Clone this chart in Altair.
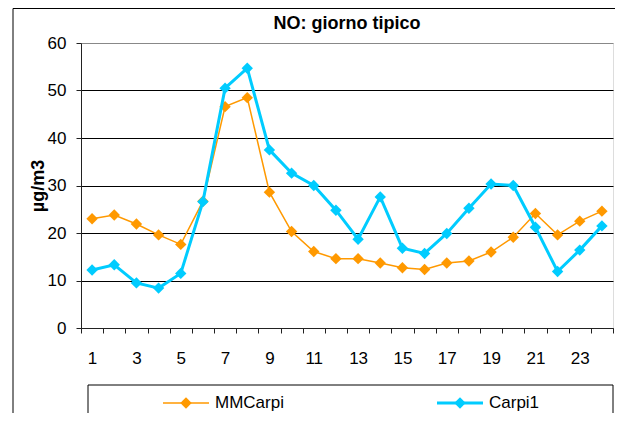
import altair as alt
import pandas as pd

hours = list(range(1, 25))
mmcarpi = [23.0, 23.8, 21.9, 19.6, 17.6, 26.7, 46.6, 48.5, 28.6, 20.3, 16.1, 14.6,
           14.6, 13.7, 12.7, 12.3, 13.7, 14.1, 16.0, 19.1, 24.1, 19.6, 22.5, 24.6]
carpi1 = [12.2, 13.3, 9.5, 8.4, 11.5, 26.6, 50.5, 54.7, 37.5, 32.6, 30.0, 24.8,
          18.7, 27.6, 16.8, 15.7, 19.9, 25.2, 30.3, 30.0, 21.2, 11.9, 16.4, 21.5]
series_names = ["MMCarpi", "Carpi1"]
series_colors = ["#FF9900", "#00CCFF"]
series_widths = [1.5, 3]
y_ticks = [0, 10, 20, 30, 40, 50, 60]
chart_title = "NO: giorno tipico"

rows = []
for name, vals in zip(series_names, [mmcarpi, carpi1]):
    for h, v in zip(hours, vals):
        rows.append({"hour": h, "value": v, "series": name})
df = pd.DataFrame(rows)

FONT = "Liberation Sans"
W, H = 532, 285
LEGEND_CX = [105, 379]   # legend entry symbol centres (layout)
LEGEND_CY = 360

color_scale = alt.Scale(domain=series_names, range=series_colors)

x_enc = alt.X(
    "hour:O",
    scale=alt.Scale(paddingInner=0, paddingOuter=0),
    axis=alt.Axis(
        title=None, labelAngle=0, grid=False,
        labelExpr="datum.value % 2 == 1 ? datum.label : ''",
        tickBand="extent", tickSize=5, tickColor="#222", domainColor="#222",
        labelPadding=17, labelFont=FONT, labelFontSize=17, labelColor="black",
    ),
)
y_enc = alt.Y(
    "value:Q",
    scale=alt.Scale(domain=[0, 60], nice=False),
    axis=alt.Axis(
        values=y_ticks, title="µg/m3", tickSize=5, tickColor="#222",
        domainColor="#222", labelPadding=10, labelFont=FONT, labelFontSize=17,
        labelColor="black", grid=True,
        gridColor={"condition": {"test": "datum.value == 60", "value": "#888888"}, "value": "black"},
        gridWidth=1,
        titleFont=FONT, titleFontSize=18, titleFontWeight="bold", titleColor="black",
        titleAngle=270, titleX=-43, titleY=H / 2, titleAlign="center", titleBaseline="middle",
    ),
)

base = alt.Chart(df).encode(x=x_enc, y=y_enc)

layers = []
for name, sw in zip(series_names, series_widths):
    sub = base.transform_filter(alt.datum.series == name)
    layers.append(
        sub.mark_line(strokeWidth=sw).encode(
            color=alt.Color("series:N", scale=color_scale, legend=None)
        )
    )
    layers.append(
        sub.mark_point(shape="diamond", filled=True, size=130, opacity=1).encode(
            color=alt.Color("series:N", scale=color_scale, legend=None)
        )
    )

# legend (drawn as decoration, entries from the series names)
legend_df = pd.DataFrame({"series": series_names})
legend_layers = []
for name, col, sw, cx in zip(series_names, series_colors, series_widths, LEGEND_CX):
    ent = alt.Chart(legend_df).transform_filter(alt.datum.series == name)
    legend_layers.append(
        ent.mark_rule(color=col, strokeWidth=sw).encode(
            x=alt.value(cx - 23), x2=alt.value(cx + 23), y=alt.value(LEGEND_CY)
        )
    )
    legend_layers.append(
        ent.mark_point(shape="diamond", filled=True, size=130, opacity=1, color=col).encode(
            x=alt.value(cx), y=alt.value(LEGEND_CY)
        )
    )
    legend_layers.append(
        ent.mark_text(font=FONT, fontSize=17, color="black", align="left", baseline="middle").encode(
            x=alt.value(cx + 29), y=alt.value(LEGEND_CY), text="series:N"
        )
    )

frame_df = pd.DataFrame({"title": [chart_title]})
legend_box = alt.Chart(frame_df).mark_rect(fill=None, stroke="black", strokeWidth=1).encode(
    x=alt.value(7), x2=alt.value(532), y=alt.value(342), y2=alt.value(400)
)
outer_frame = alt.Chart(frame_df).mark_rect(fill=None, stroke="black", strokeWidth=1).encode(
    x=alt.value(-68), x2=alt.value(700), y=alt.value(-34.5), y2=alt.value(500)
)
title_text = alt.Chart(frame_df).mark_text(
    font=FONT, fontSize=18, fontWeight="bold", color="black", baseline="alphabetic", align="center"
).encode(x=alt.value(W / 2), y=alt.value(-14), text="title:N")

chart = alt.layer(outer_frame, legend_box, title_text, *legend_layers, *layers).properties(
    width=W, height=H,
    autosize=alt.AutoSizeParams(type="none"),
    padding={"left": 73, "top": 35, "right": 2, "bottom": 85},
).configure_view(
    stroke="#888888", strokeWidth=2, fill="white"
).configure(background="white")

chart.save("out.html", embed_options={"renderer": "svg", "actions": False})
